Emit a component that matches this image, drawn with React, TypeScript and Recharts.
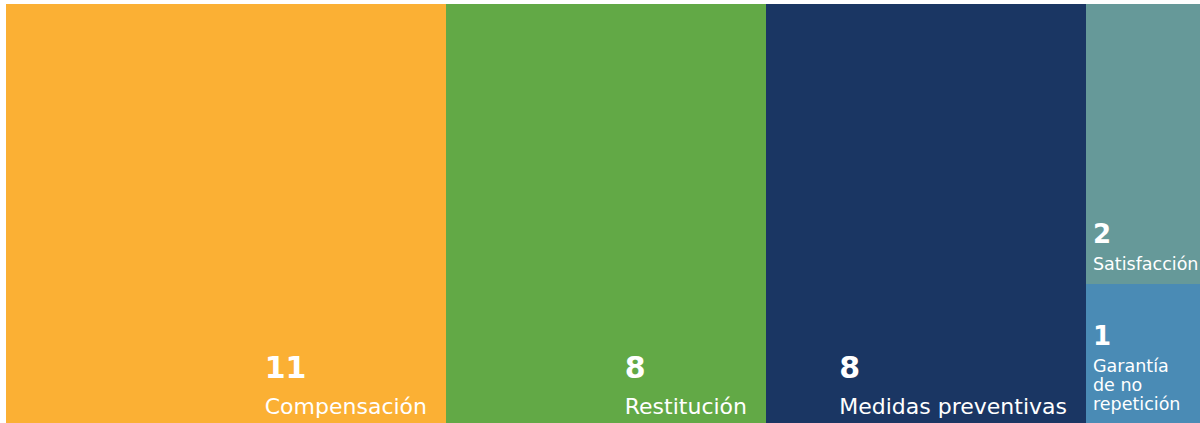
import { Treemap } from "recharts";

const names = [
  "Compensación",
  "Restitución",
  "Medidas preventivas",
  "Satisfacción",
  "Garantía de no repetición",
];
const counts = [11, 8, 8, 2, 1];
const COLORS = ["#FBB034", "#62A946", "#1A3663", "#669999", "#4A8BB5"];

const data = names.map((name, i) => ({ name, value: counts[i] }));

const FONT = "'DejaVu Sans', Verdana, sans-serif";

let ctx: CanvasRenderingContext2D | null = null;
function measure(text: string, size: number, weight = "normal") {
  if (!ctx) ctx = document.createElement("canvas").getContext("2d");
  if (!ctx) return text.length * size * 0.6;
  ctx.font = `${weight} ${size}px 'DejaVu Sans'`;
  return ctx.measureText(text).width;
}

function wrap(text: string, size: number, maxW: number) {
  const words = text.split(" ");
  const lines: string[] = [];
  let line = "";
  for (const w of words) {
    const test = line ? line + " " + w : w;
    if (line && measure(test, size) > maxW) {
      lines.push(line);
      line = w;
    } else {
      line = test;
    }
  }
  if (line) lines.push(line);
  return lines;
}

function Tile(props: any) {
  const { x, y, width, height, depth, name, value } = props;
  if (depth !== 1) return null;
  const color = COLORS[names.indexOf(name)] ?? "#999";
  const small = width < 200;
  const numSize = small ? 26 : 30;
  const labSize = small ? 17.5 : 22;
  const lineH = small ? 19 : 26;
  const lines = small ? wrap(name, labSize, width - 24) : [name];
  const blockW = Math.max(
    ...lines.map((l) => measure(l, labSize)),
    measure(String(value), numSize, "bold")
  );
  const left = small ? x + 7 : x + width - 19 - blockW;
  const bottom = y + height - (small ? 14 : 10);
  const firstBase = bottom - (lines.length - 1) * lineH;
  const numBase = firstBase - (small ? 27 : 36);

  return (
    <g>
      <rect x={x} y={y} width={width} height={height} fill={color} stroke="none" />
      <text
        x={left}
        y={numBase}
        fill="#fff"
        fontFamily={FONT}
        fontWeight="bold"
        fontSize={numSize}
      >
        {value}
      </text>
      {lines.map((l, i) => (
        <text
          key={i}
          x={left}
          y={firstBase + i * lineH}
          fill="#fff"
          fontFamily={FONT}
          fontSize={labSize}
        >
          {l}
        </text>
      ))}
    </g>
  );
}

export default function App() {
  return (
    <div
      style={{
        position: "absolute",
        left: 6,
        top: 4,
        width: 1194,
        height: 419,
        overflow: "hidden",
        background: "#fff",
      }}
    >
      <Treemap
        width={1200}
        height={420}
        data={data}
        dataKey="value"
        nameKey="name"
        aspectRatio={1}
        isAnimationActive={false}
        content={<Tile />}
      />
    </div>
  );
}
